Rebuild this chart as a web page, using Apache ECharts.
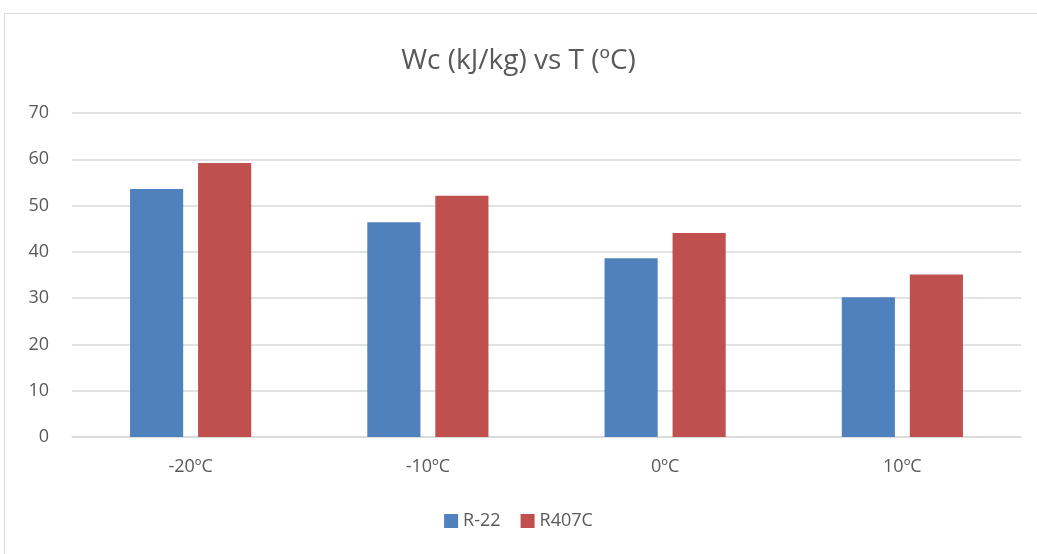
<!DOCTYPE html>
<html><head><meta charset="utf-8">
<script src="https://cdn.jsdelivr.net/npm/echarts@6/dist/echarts.min.js"></script>
<style>html,body{margin:0;padding:0;background:#fff}#c{width:1037px;height:554px}</style>
</head><body><div id="c"></div>
<script>
const categories = ['-20ºC', '-10ºC', '0ºC', '10ºC'];
const seriesNames = ['R-22', 'R407C'];
const r22 = [53.6, 46.4, 38.6, 30.2];
const r407c = [59.2, 52.1, 44.1, 35.1];
const yTicks = [0, 10, 20, 30, 40, 50, 60, 70];

const chart = echarts.init(document.getElementById('c'));
const font = '"Open Sans", "Noto Sans", sans-serif';
chart.setOption({
  animation: false,
  backgroundColor: '#fff',
  graphic: [{type: 'rect', shape: {x: 4.5, y: 13.5, width: 1050, height: 600}, style: {fill: 'none', stroke: '#d9d9d9', lineWidth: 1}, silent: true}],
  title: {text: 'Wc (kJ/kg) vs T (ºC)', left: 'center', top: 42, textStyle: {fontFamily: font, fontSize: 28, fontWeight: 'normal', color: '#595959'}},
  grid: {left: 72, right: 16, top: 113, bottom: 117, containLabel: false},
  legend: {data: seriesNames, bottom: 19, left: 'center', itemWidth: 14, itemHeight: 14, itemGap: 20, icon: 'rect', textStyle: {fontFamily: font, fontSize: 18, color: '#595959'}},
  xAxis: {type: 'category', data: categories, axisLine: {lineStyle: {color: '#d9d9d9', width: 1.5}}, axisTick: {show: false}, axisLabel: {fontFamily: font, fontSize: 18, color: '#595959', margin: 21}},
  yAxis: {type: 'value', min: yTicks[0], max: yTicks[yTicks.length - 1], interval: 10, axisLine: {show: false}, axisTick: {show: false}, splitLine: {lineStyle: {color: '#d9d9d9', width: 1.5}}, axisLabel: {fontFamily: font, fontSize: 18, color: '#595959', margin: 23}},
  series: [
    {name: seriesNames[0], type: 'bar', data: r22, barWidth: '22.4%', barGap: '28%', itemStyle: {color: '#4F81BD'}},
    {name: seriesNames[1], type: 'bar', data: r407c, barWidth: '22.4%', barGap: '28%', itemStyle: {color: '#C0504D'}}
  ]
});
</script></body></html>
